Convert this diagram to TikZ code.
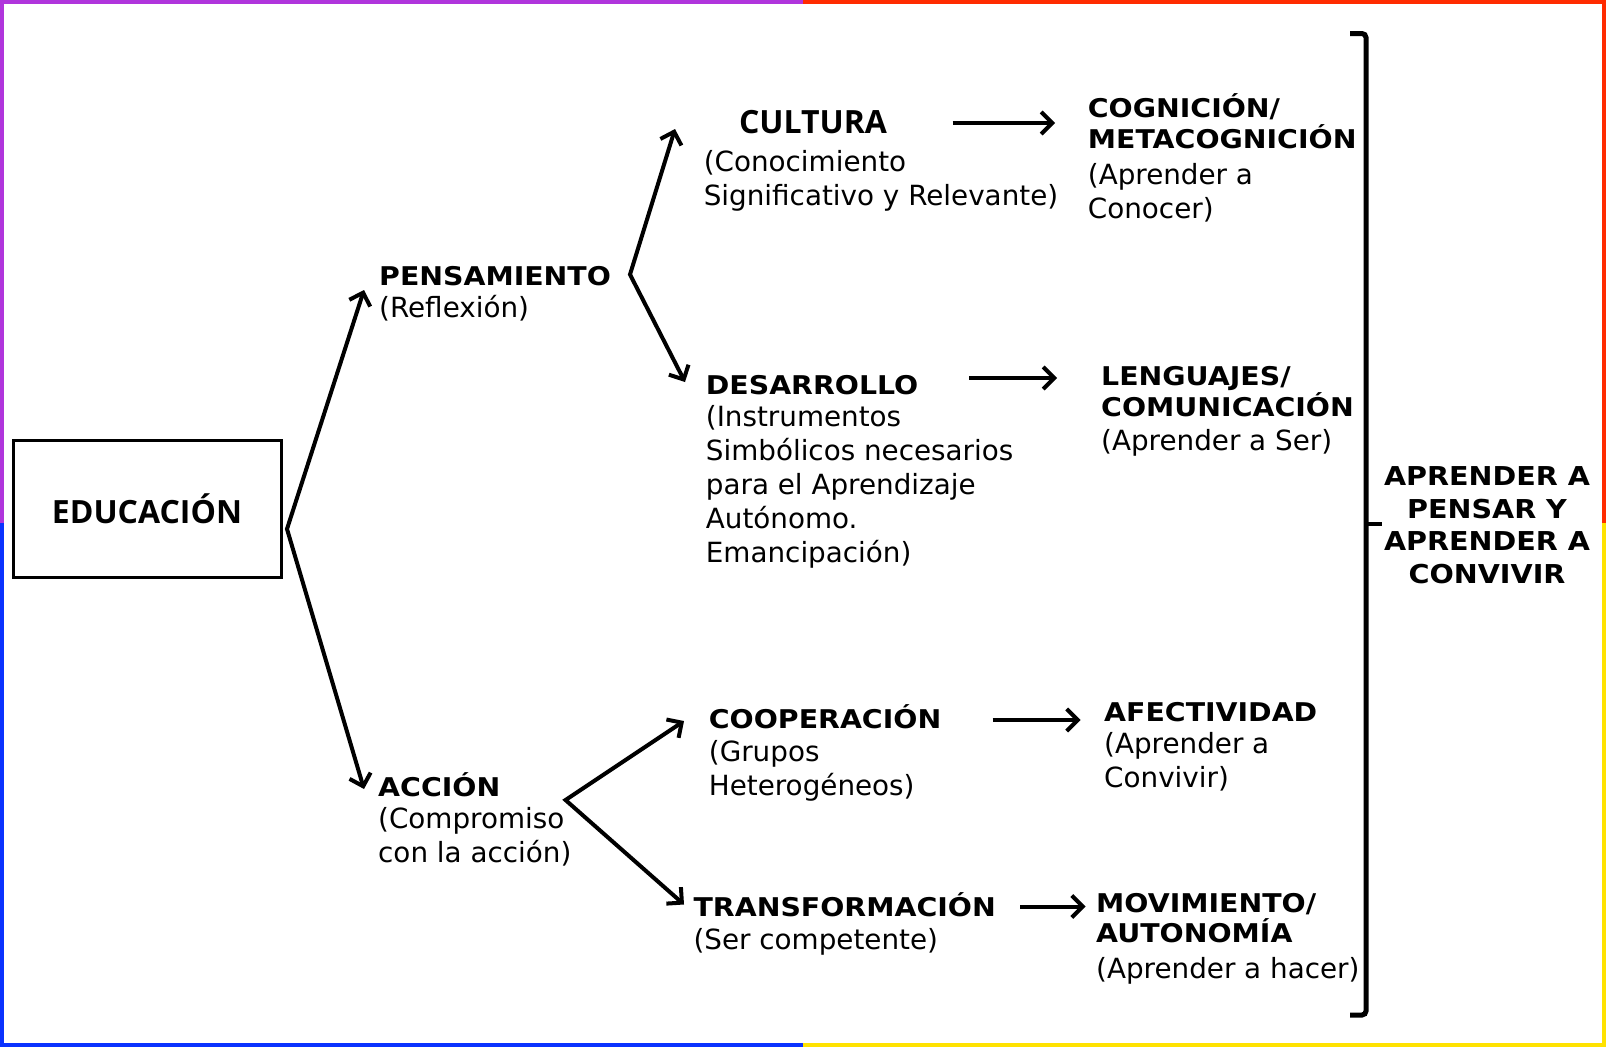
\documentclass[tikz,border=0pt]{standalone}
\usepackage{fontspec}
\setmainfont{DejaVu Sans}
\newfontfamily\osans{Open Sans}
\newfontfamily\hdfam{DejaVu Sans Bold}[FakeStretch=1.1]
\usetikzlibrary{arrows.meta}
\definecolor{bpurple}{RGB}{176,53,220}
\definecolor{bred}{RGB}{255,43,0}
\definecolor{bblue}{RGB}{10,50,255}
\definecolor{byellow}{RGB}{255,226,0}
\newcommand{\hdfont}{\hdfam\fontsize{25.8}{30.7}\selectfont}
\newcommand{\txfont}{\fontsize{27.8}{34}\selectfont}
\newcommand{\bigfont}{\osans\bfseries\fontsize{32}{36}\selectfont}
\newcommand{\aprfont}{\hdfam\fontsize{26}{32.7}\selectfont}
\tikzset{
  hd/.style={font=\hdfont, inner sep=0pt, anchor=base west, align=left},
  tx/.style={font=\txfont, inner sep=0pt, anchor=base west, align=left},
  arr/.style={line width=4pt, line join=miter, -{Straight Barb[length=11pt,width=22pt,line width=4pt]}},
  darr/.style={line width=4pt, line join=miter, {Straight Barb[length=11pt,width=22pt,line width=4pt]}-{Straight Barb[length=11pt,width=22pt,line width=4pt]}},
  brk/.style={line width=5pt, rounded corners=4pt},
}
\begin{document}
\begin{tikzpicture}[x=1pt,y=-1pt]
\useasboundingbox (0,0) rectangle (1606,1047);
% coloured frame
\fill[bpurple] (0,0) rectangle (803,4);
\fill[bred] (803,0) rectangle (1606,4);
\fill[bpurple] (0,0) rectangle (4,523);
\fill[bblue] (0,523) rectangle (4,1047);
\fill[bred] (1602,0) rectangle (1606,523);
\fill[byellow] (1602,523) rectangle (1606,1047);
\fill[bblue] (0,1043) rectangle (803,1047);
\fill[byellow] (803,1043) rectangle (1606,1047);

% main box
\node[draw, line width=3pt, minimum width=268pt, minimum height=137pt, font=\bigfont, inner sep=0pt] (edu) at (147,508.5) {EDUCACIÓN};

% texts (multi-line nodes are placed at the baseline of their last line)
\node[font=\bigfont, inner sep=0pt, anchor=base] (cult) at (813,133) {CULTURA};
\node[tx] (cultd) at (703.6,205) {(Conocimiento\\Significativo y Relevante)};
\node[hd] (cog) at (1087.7,148.5) {COGNICIÓN/\\METACOGNICIÓN};
\node[tx] (cogd) at (1087.7,218) {(Aprender a\\Conocer)};

\node[hd] (pens) at (379,285.7) {PENSAMIENTO};
\node[tx] (pensd) at (379,317.5) {(Reflexión)};

\node[hd] (des) at (705.7,394.3) {DESARROLLO};
\node[tx] (desd) at (705.7,562.5) {(Instrumentos\\Simbólicos necesarios\\para el Aprendizaje\\Autónomo.\\Emancipación)};
\node[hd] (len) at (1101,416.5) {LENGUAJES/\\COMUNICACIÓN};
\node[tx] (lend) at (1101,450.6) {(Aprender a Ser)};

\node[hd] (acc) at (378,796.5) {ACCIÓN};
\node[tx] (accd) at (378,862) {(Compromiso\\con la acción)};

\node[hd] (coop) at (708.7,728.2) {COOPERACIÓN};
\node[tx] (coopd) at (708.7,795.5) {(Grupos\\Heterogéneos)};
\node[hd] (afe) at (1104,721) {AFECTIVIDAD};
\node[tx] (afed) at (1104,787.8) {(Aprender a\\Convivir)};

\node[hd] (tr) at (693.4,916.7) {TRANSFORMACIÓN};
\node[tx] (trd) at (693.4,949.4) {(Ser competente)};
\node[hd] (mov) at (1096,942.8) {MOVIMIENTO/\\AUTONOMÍA};
\node[tx] (movd) at (1096,978) {(Aprender a hacer)};

\node[font=\aprfont, inner sep=0pt, anchor=base, align=center] (apr) at (1487,583.6) {APRENDER A\\PENSAR Y\\APRENDER A\\CONVIVIR};

% junction coordinates
\coordinate (ej) at (287,529);
\coordinate (pensT) at (364,290);
\coordinate (accT) at (364,789);
\coordinate (pj) at (630,274.5);
\coordinate (cultT) at (675,129);
\coordinate (desT) at (685,382);
\coordinate (aj) at (565.5,800);
\coordinate (coopT) at (684,721);
\coordinate (trT) at (684,904.5);

\draw[darr] (pensT) -- (ej) -- (accT);
\draw[darr] (cultT) -- (pj) -- (desT);
\draw[darr] (coopT) -- (aj) -- (trT);

% horizontal arrows
\coordinate (a1s) at (952.5,123); \coordinate (a1e) at (1055,123);
\coordinate (a2s) at (969,378);   \coordinate (a2e) at (1057,378);
\coordinate (a3s) at (992.5,720); \coordinate (a3e) at (1080.5,720);
\coordinate (a4s) at (1020,906.5); \coordinate (a4e) at (1085.6,906.5);
\draw[arr] (a1s) -- (a1e);
\draw[arr] (a2s) -- (a2e);
\draw[arr] (a3s) -- (a3e);
\draw[arr] (a4s) -- (a4e);

% bracket
\coordinate (b1) at (1350,33.5);
\coordinate (b2) at (1366,33.5);
\coordinate (b3) at (1366,1015);
\coordinate (b4) at (1350,1015);
\coordinate (bm) at (1366,524);
\coordinate (bt) at (1382,524);
\draw[brk] (b1) -- (b2) -- (b3) -- (b4);
\draw[line width=4pt] (bm) -- (bt);
\end{tikzpicture}
\end{document}
